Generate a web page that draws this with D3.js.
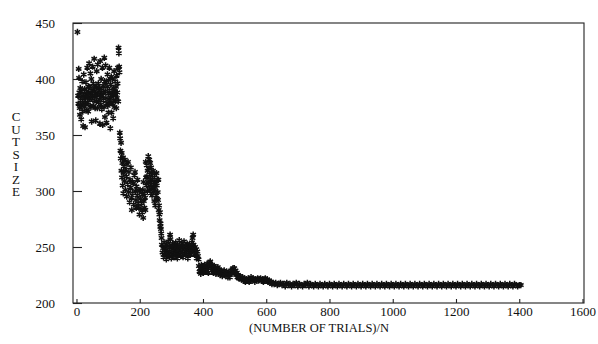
<!DOCTYPE html>
<html>
<head>
<meta charset="utf-8">
<script src="https://cdn.jsdelivr.net/npm/d3@7"></script>
<style>
  html, body { margin: 0; padding: 0; background: #fff; }
  svg { display: block; }
  text { font-family: "Liberation Serif", "DejaVu Serif", serif; fill: #111; }
</style>
</head>
<body>
<svg id="chart" width="598" height="344"></svg>
<script>
// ---------------- data ----------------
const xTickValues = [0, 200, 400, 600, 800, 1000, 1200, 1400, 1600];
const yTickValues = [200, 250, 300, 350, 400, 450];
const xTitle = "(NUMBER OF TRIALS)/N";
const yTitle = "CUTSIZE";

// phase 1: high, widely scattered cut sizes
const phase1 = [
  [3,442],[5,385],[6,378],[7,409],[8,401],[9,388],[10,374],[11,368],[12,392],[13,381],
  [14,384],[15,364],[16,376],[17,389],[18,398],[19,379],[20,371],[21,358],[22,386],[23,404],
  [24,381],[25,375],[26,391],[27,357],[28,383],[29,378],[30,397],[31,386],[32,389],[33,372],
  [34,410],[35,384],[36,379],[37,371],[38,393],[39,388],[40,414],[41,382],[42,393],[43,376],
  [44,405],[45,387],[46,375],[47,400],[48,362],[49,390],[50,385],[51,411],[52,381],[53,396],
  [54,376],[55,389],[56,418],[57,392],[58,384],[59,374],[60,387],[61,363],[62,394],[63,380],
  [64,407],[65,386],[66,374],[67,413],[68,391],[69,396],[70,379],[71,388],[72,382],[73,392],
  [74,360],[75,416],[76,386],[77,377],[78,400],[79,390],[80,373],[81,385],[82,410],[83,359],
  [84,394],[85,381],[86,388],[87,375],[88,419],[89,398],[90,366],[91,389],[92,412],[93,383],
  [94,397],[95,361],[96,378],[97,393],[98,404],[99,376],[100,387],[101,370],[102,399],[103,382],
  [104,410],[105,390],[106,379],[107,356],[108,395],[109,384],[110,402],[111,370],[112,388],[113,378],
  [114,400],[115,386],[116,365],[117,392],[118,381],[119,407],[120,375],[121,389],[122,398],[123,380],
  [124,386],[125,393],[126,374],[127,403],[128,383],[129,388],[130,396],[131,410],[132,380],[133,428],
  [134,423],[135,411],[136,406]
];

// phase 2: first drop, two clusters around 290-330
const phase2 = [
  [137,352],[138,347],[139,336],[140,329],[141,343],[142,318],[143,334],[144,312],[145,325],[146,305],
  [147,330],[148,298],[149,316],[150,322],[152,309],[153,328],[155,301],[156,319],[158,313],[159,295],
  [160,324],[162,306],[163,326],[165,299],[166,317],[168,290],[169,310],[171,303],[172,321],[174,294],
  [175,283],[177,308],[178,298],[180,307],[181,288],[183,314],[185,317],[186,300],[188,292],[189,285],
  [190,304],[192,296],[193,310],[195,289],[196,286],[198,300],[199,279],[201,301],[202,293],[204,284],
  [206,289],[207,297],[208,281],[210,301],[211,276],[212,308],[213,291],[215,285],[216,298],[217,294],
  [218,283],[219,326],[220,312],[221,305],[222,323],[223,313],[224,300],[225,318],[226,308],[227,331],
  [228,307],[229,320],[230,328],[231,302],[232,315],[233,325],[234,310],[235,298],[236,321],[237,306],
  [238,316],[239,296],[240,312],[241,303],[242,318],[243,304],[244,299],[245,309],[246,291],[247,314],
  [248,301],[249,287],[250,307],[252,296],[253,316],[254,305],[255,293],[256,310],[257,299],[258,292],
  [259,310],[260,283],[261,287],[262,279],[263,274],[264,281],[265,268],[266,271],[267,266],[268,262],
  [269,258]
];

// phase 3: plateau around 240-255
const phase3 = [
  [270,252],[272,245],[274,249],[275,241],[277,254],[279,247],[280,243],[282,250],[284,239],[285,252],
  [287,246],[289,244],[290,255],[292,248],[294,242],[295,251],[296,261],[297,257],[299,245],[300,240],
  [302,249],[304,253],[305,243],[307,247],[309,251],[310,241],[312,246],[314,254],[315,244],[317,249],
  [319,240],[320,252],[322,247],[324,243],[325,256],[327,250],[329,245],[330,242],[332,248],[334,253],
  [335,246],[337,241],[339,250],[340,255],[342,244],[344,248],[345,251],[347,243],[349,247],[350,253],
  [352,240],[354,249],[355,245],[357,252],[359,248],[360,243],[362,250],[364,246],[365,254],[367,258],
  [369,261],[370,252],[372,247],[374,243],[375,250],[377,244],[379,248],[380,240],[382,246],[384,242],
  [386,239]
];

// phase 4: plateau around 223-237
const phase4 = [
  [387,233],[389,228],[391,231],[393,226],[395,234],[397,229],[399,232],[401,227],[403,230],[405,234],
  [407,228],[409,232],[411,229],[413,235],[415,231],[417,227],[419,234],[421,236],[423,237],[425,232],
  [427,229],[429,234],[431,231],[433,227],[435,233],[437,229],[439,232],[441,226],[443,230],[445,228],
  [447,232],[449,226],[451,230],[453,228],[455,225],[457,229],[459,227],[461,224],[463,228],[465,226],
  [467,229],[469,225],[471,227],[473,224],[475,228],[477,226],[479,223],[481,227],[483,225],[485,223],
  [487,227],[489,229],[491,226],[493,230],[495,231],[497,228],[499,231],[501,227],[503,229],[505,225],
  [507,227],[509,223],[511,225],[513,222],[515,224],[517,222],[519,223]
];

// phase 5: converged tail near 215-222
const phase5 = [
  [522,221],[525,223],[528,220],[531,222],[534,219],[537,221],[540,220],[543,222],[546,219],[549,221],
  [552,223],[555,220],[558,222],[561,221],[564,219],[567,221],[570,220],[573,222],[576,220],[579,221],
  [582,222],[585,220],[588,221],[591,219],[594,221],[597,222],[600,220],[603,221],[606,219],[609,220],
  [612,218],[615,219],[618,217],[621,218],[625,217],[630,218],[635,216],[640,217],[645,218],[650,216],
  [655,217],[660,215],[665,218],[670,216],[675,217],[680,215],[685,217],[690,216],[695,218],[700,215],
  [705,217],[710,216],[715,215],[720,217],[725,216],[730,218],[735,215],[740,217],[745,216],[750,215],
  [755,217],[760,216],[765,215],[770,217],[775,216],[780,215],[785,217],[790,216],[795,215],[800,217],
  [805,216],[810,215],[815,217],[820,216],[825,215],[830,217],[835,216],[840,215],[845,217],[850,216],
  [855,215],[860,217],[865,216],[870,215],[875,217],[880,216],[885,215],[890,217],[895,216],[900,215],
  [905,217],[910,216],[915,215],[920,217],[925,216],[930,215],[935,217],[940,216],[945,215],[950,217],
  [955,216],[960,215],[965,217],[970,216],[975,215],[980,217],[985,216],[990,215],[995,217],[1000,216],
  [1005,215],[1010,217],[1015,216],[1020,215],[1025,217],[1030,216],[1035,215],[1040,217],[1045,216],[1050,215],
  [1055,217],[1060,216],[1065,215],[1070,217],[1075,216],[1080,215],[1085,217],[1090,216],[1095,215],[1100,217],
  [1105,216],[1110,215],[1115,217],[1120,216],[1125,215],[1130,217],[1135,216],[1140,215],[1145,217],[1150,216],
  [1155,215],[1160,217],[1165,216],[1170,215],[1175,217],[1180,216],[1185,215],[1190,217],[1195,216],[1200,215],
  [1205,217],[1210,216],[1215,215],[1220,217],[1225,216],[1230,215],[1235,217],[1240,216],[1245,215],[1250,217],
  [1255,216],[1260,215],[1265,217],[1270,216],[1275,215],[1280,217],[1285,216],[1290,215],[1295,217],[1300,216],
  [1305,215],[1310,217],[1315,216],[1320,215],[1325,217],[1330,216],[1335,215],[1340,217],[1345,216],[1350,215],
  [1355,217],[1360,216],[1365,215],[1370,217],[1375,216],[1380,215],[1385,217],[1390,216],[1395,215],[1400,216],
  [1405,216]
];

// ---------------- drawing ----------------
const svg = d3.select("#chart");
const frame = { left: 73, right: 584, top: 23, bottom: 303 };

const x = d3.scaleLinear().domain([-11, 1600]).range([frame.left, 582.5]);
const y = d3.scaleLinear().domain([200, 450]).range([frame.bottom, frame.top]);

// frame
svg.append("rect")
  .attr("x", frame.left).attr("y", frame.top)
  .attr("width", frame.right - frame.left).attr("height", frame.bottom - frame.top)
  .attr("fill", "none").attr("stroke", "#222").attr("stroke-width", 1.1);

// axes
const xAxis = svg.append("g")
  .attr("transform", `translate(0,${frame.bottom})`)
  .call(d3.axisBottom(x).tickValues(xTickValues).tickFormat(d3.format("d"))
    .tickSize(-4).tickPadding(4));
const yAxis = svg.append("g")
  .attr("transform", `translate(${frame.left},0)`)
  .call(d3.axisLeft(y).tickValues(yTickValues).tickFormat(d3.format("d"))
    .tickSize(-9).tickPadding(18));

[xAxis, yAxis].forEach(g => {
  g.select(".domain").remove();
  g.selectAll(".tick line").attr("stroke", "#222").attr("stroke-width", 1.1);
  g.selectAll(".tick text")
    .attr("fill", "#111")
    .style("font-family", '"Liberation Serif", serif')
    .style("font-size", "13px");
});

// titles
svg.append("text")
  .attr("x", 319).attr("y", 332)
  .attr("text-anchor", "middle")
  .style("font-size", "12.5px")
  .text(xTitle);

svg.append("text")
  .attr("x", 16)
  .attr("y", 109)
  .style("writing-mode", "vertical-rl")
  .style("text-orientation", "upright")
  .style("letter-spacing", "-2.5px")
  .style("font-size", "13px")
  .text(yTitle);

// points
const allPoints = [].concat(phase1, phase2, phase3, phase4, phase5);
const star = d3.symbol().type(d3.symbolAsterisk).size(28);
svg.append("g")
  .selectAll("path")
  .data(allPoints)
  .join("path")
  .attr("transform", d => `translate(${x(d[0])},${y(d[1])})`)
  .attr("d", star)
  .attr("fill", "none")
  .attr("stroke", "#111")
  .attr("stroke-width", 1.5);
</script>
</body>
</html>
